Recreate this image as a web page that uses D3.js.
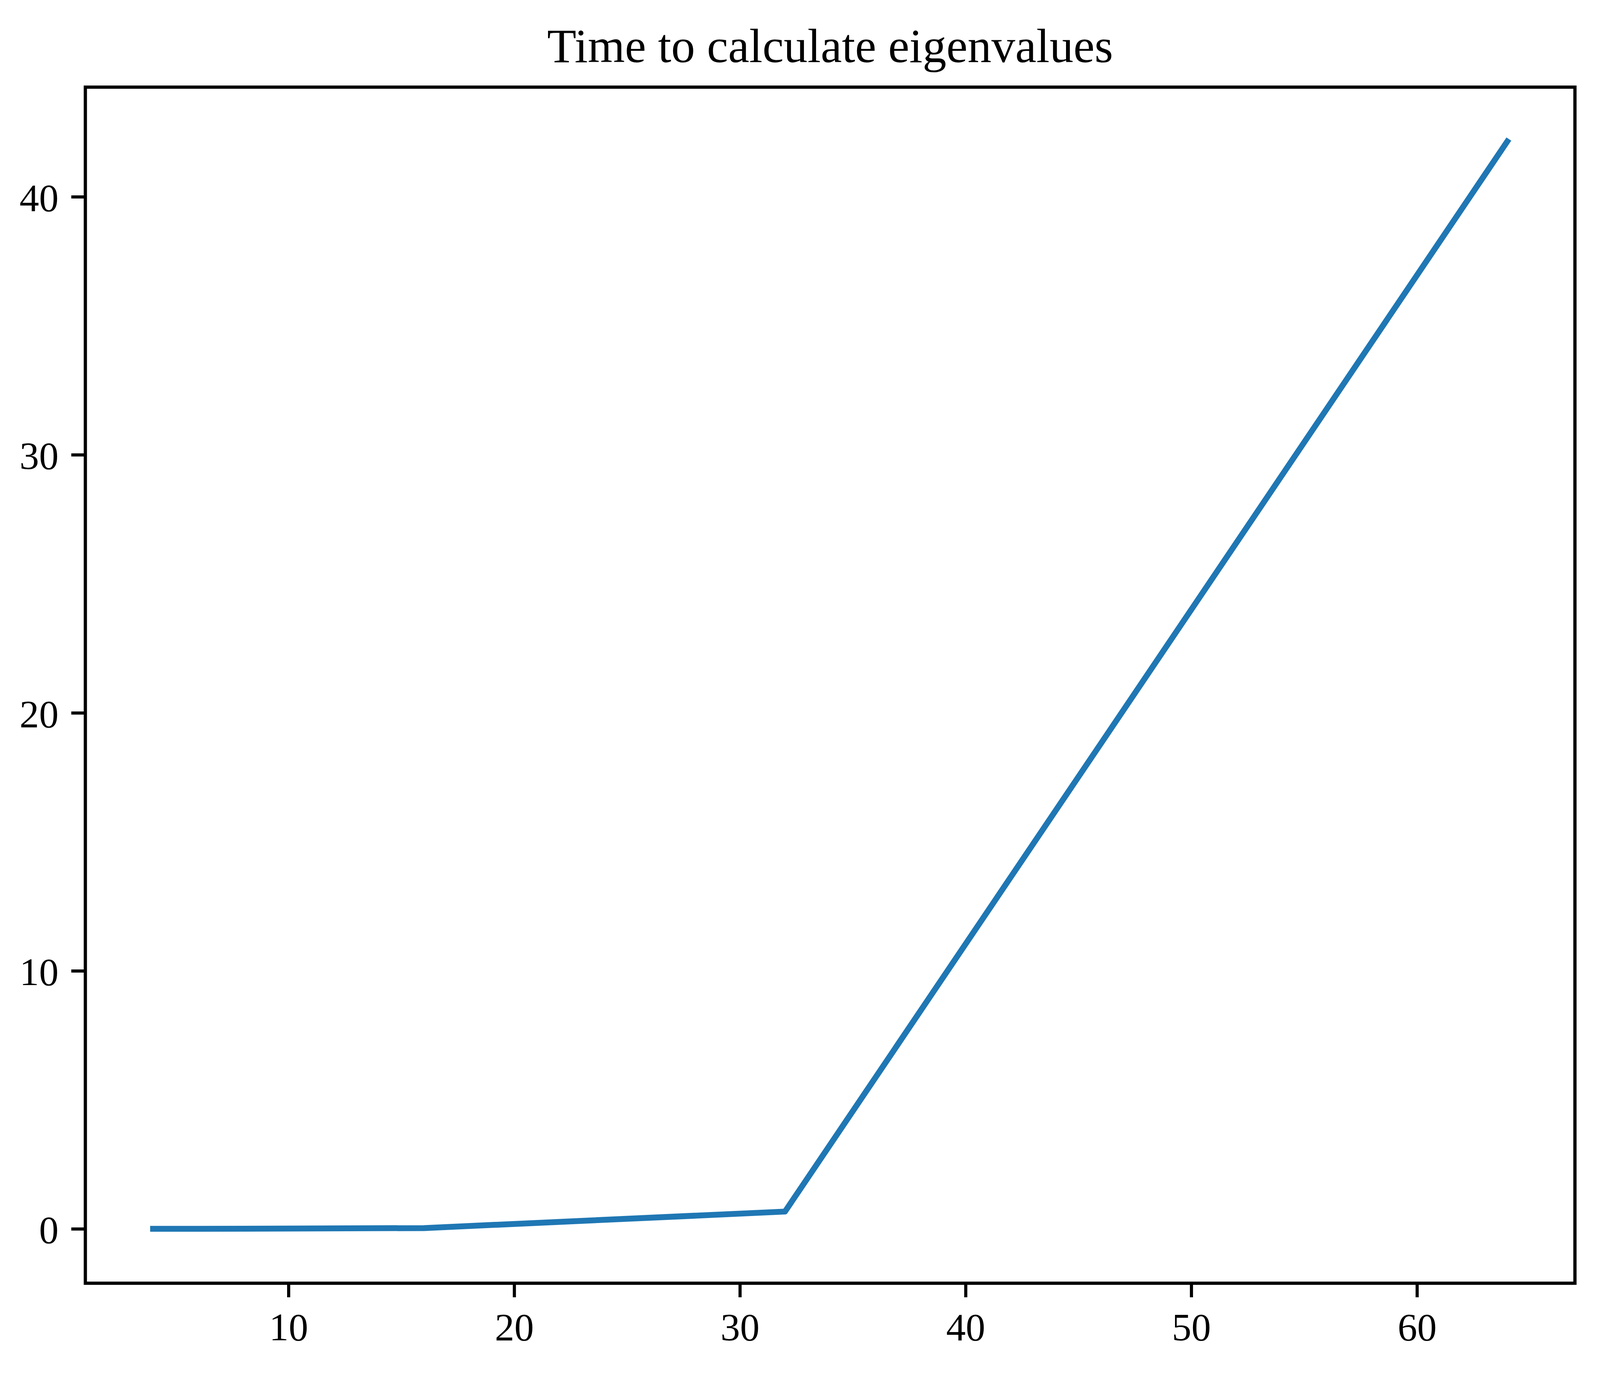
<!DOCTYPE html>
<html>
<head>
<meta charset="utf-8">
<script src="https://cdn.jsdelivr.net/npm/d3@7"></script>
<style>
  html, body { margin: 0; padding: 0; background: #fff; overflow: hidden; }
  svg { display: block; }
  text { font-family: "Liberation Serif", "DejaVu Serif", serif; fill: #000; }
</style>
</head>
<body>
<div id="chart"></div>
<script>
// matrix size vs. seconds to get the eigenvalues
const sizes = [4, 8, 16, 32, 64]
const seconds = [0.0, 0.005, 0.03, 0.67, 42.14]
const xTicks = [10, 20, 30, 40, 50, 60]
const yTicks = [0, 10, 20, 30, 40]
const title = 'Time to calculate eigenvalues'

// the window can come out smaller than asked for, so lay out on what we get
const dims = {
  width: window.innerWidth || 4724,
  height: window.innerHeight || 3524
}
// plot box as fractions of the figure
const margins = {
  top: dims.height * 223 / 3524,
  right: dims.width * 74 / 4724,
  bottom: dims.height * 240 / 3524,
  left: dims.width * 252 / 4724
}
const inner = {
  width: dims.width - margins.left - margins.right,
  height: dims.height - margins.top - margins.bottom
}

// matplotlib style 5% padding on both ends
function padded (values) {
  const [lo, hi] = d3.extent(values)
  const pad = (hi - lo) * 0.05
  return [lo - pad, hi + pad]
}

const svg = d3.select('#chart')
  .append('svg')
  .attr('width', dims.width)
  .attr('height', dims.height)

const chart = svg.append('g')
  .attr('transform', `translate(${margins.left}, ${margins.top})`)

const x = d3.scaleLinear()
  .domain(padded(sizes))
  .range([0, inner.width])

const y = d3.scaleLinear()
  .domain(padded(seconds))
  .range([inner.height, 0])

// x axis
const xAxis = chart.append('g')
  .attr('transform', `translate(0, ${inner.height})`)
  .call(d3.axisBottom(x).tickValues(xTicks).tickFormat(d3.format('d')).tickSize(36))
xAxis.select('.domain').remove()
xAxis.selectAll('.tick line').attr('stroke', '#000').attr('stroke-width', 8)
xAxis.selectAll('.tick text')
  .attr('y', 146)
  .attr('dy', 0)
  .attr('font-size', 100)

// y axis
const yAxis = chart.append('g')
  .call(d3.axisLeft(y).tickValues(yTicks).tickFormat(d3.format('d')).tickSize(36))
yAxis.select('.domain').remove()
yAxis.selectAll('.tick line').attr('stroke', '#000').attr('stroke-width', 8)
yAxis.selectAll('.tick text')
  .attr('x', -79 * dims.width / 4724)
  .attr('y', 36)
  .attr('dy', 0)
  .attr('font-size', 100)

// the data line
chart.append('path')
  .datum(sizes.map((s, i) => [s, seconds[i]]))
  .attr('fill', 'none')
  .attr('stroke', '#1f77b4')
  .attr('stroke-width', 15)
  .attr('stroke-linejoin', 'round')
  .attr('stroke-linecap', 'square')
  .attr('d', d3.line().x(d => x(d[0])).y(d => y(d[1])))

// frame around the plot area
chart.append('rect')
  .attr('width', inner.width)
  .attr('height', inner.height)
  .attr('fill', 'none')
  .attr('stroke', '#000')
  .attr('stroke-width', 8.3)

svg.append('text')
  .attr('x', margins.left + inner.width / 2)
  .attr('y', dims.height * 159 / 3524)
  .attr('text-anchor', 'middle')
  .attr('font-size', 122)
  .text(title)
</script>
</body>
</html>
